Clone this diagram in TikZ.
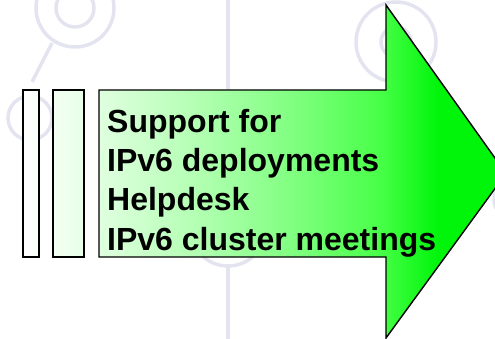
\documentclass[tikz,border=0pt]{standalone}
\usepackage{fontspec}
\setmainfont{Liberation Sans}
\definecolor{ghost}{RGB}{228,228,240}
\definecolor{lightgreen}{RGB}{232,255,232}
\definecolor{fullgreen}{RGB}{0,245,10}
% the shading box spans 25bp..75bp across the filled path
\pgfdeclarehorizontalshading{greenfade}{100bp}{
  color(0bp)=(white);
  color(25bp)=(white);
  color(31bp)=(lightgreen);
  color(43bp)=(green!30!white);
  color(54bp)=(green!52!white);
  color(62bp)=(green!72!white);
  color(68bp)=(fullgreen);
  color(100bp)=(fullgreen)}
\tikzset{
  deco/.style={draw=ghost, line width=3.5pt},
  outline/.style={draw=black, line width=1.4pt, line join=miter},
  label/.style={anchor=base west, inner sep=0pt, font=\bfseries\fontsize{32}{38}\selectfont}
}
\begin{document}
\begin{tikzpicture}[x=1pt, y=-1pt]
\useasboundingbox (0,0) rectangle (495,339);
% faint network motif in the background
\draw[deco] (75,8) circle (39);
\draw[deco] (75,8) circle (19);
\draw[deco] (52,43) -- (32,82);
\draw[deco] (228,0) -- (228,100);
\draw[deco] (30,118) circle (22);
\draw[deco] (396,42) circle (40);
\draw[deco] (396,42) circle (15);
\draw[deco] (228,228) circle (38);
\draw[deco] (228,266) -- (228,339);
\draw[deco] (512,200) circle (18);
% arrow and the two bars, sharing one gradient
\coordinate (tip) at (506,173.5);
\path[shading=greenfade]
  (23,90) rectangle (39,257)
  (53,90) rectangle (84,257)
  (99,90) -- (386,90) -- (386,5) -- (tip) -- (386,338) -- (386,257) -- (99,257) -- cycle;
\draw[outline] (23,90) rectangle (39,257);
\draw[outline] (53,90) rectangle (84,257);
\draw[outline] (99,90) -- (386,90) -- (386,5) -- (tip) -- (386,338) -- (386,257) -- (99,257) -- cycle;
% text on the arrow
\node[label] (l1) at (107,133) {Support for};
\node[label] (l2) at (107,172) {IPv6 deployments};
\node[label] (l3) at (107,211) {Helpdesk};
\node[label] (l4) at (107,250) {IPv6 cluster meetings};
\end{tikzpicture}
\end{document}
